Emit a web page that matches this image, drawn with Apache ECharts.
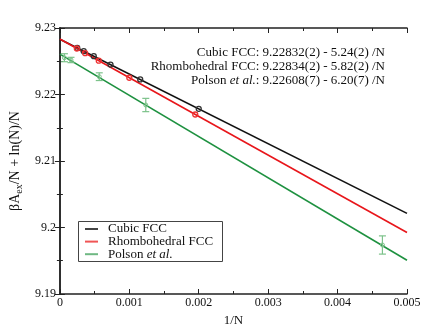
<!DOCTYPE html>
<html><head><meta charset="utf-8">
<script src="https://cdn.jsdelivr.net/npm/echarts@6/dist/echarts.min.js"></script>
<style>html,body{margin:0;padding:0;background:#fff}#c{width:434px;height:334px}</style>
</head><body><div id="c"></div>
<script>
// ---- data ----
var cubicX = [0.00025, 0.000343, 0.000488, 0.000729, 0.001157, 0.002];
var cubicY = [9.22701, 9.22652, 9.22576, 9.2245, 9.22226, 9.21784];
var rhomboX = [0.000244, 0.000364, 0.00056, 0.001, 0.00195];
var rhomboY = [9.22692, 9.22622, 9.22508, 9.22252, 9.21699];
var polsonX = [0.000065, 0.00016, 0.000567, 0.001237, 0.004646];
var polsonY = [9.22553, 9.22519, 9.22268, 9.21842, 9.19737];
var polsonErr = [0.0006, 0.0004, 0.00058, 0.001, 0.00137];
var fitX = [0, 0.005];
var cubicFit = [9.22832, 9.20212];
var rhomboFit = [9.22834, 9.19924];
var polsonFit = [9.22608, 9.19508];
var names = ['Cubic FCC', 'Rhombohedral FCC', 'Polson et al.'];
var legendParts = [['Cubic FCC'], ['Rhombohedral FCC'], ['Polson ', 'et al.']];
var fitTexts = [
  ['Cubic FCC: 9.22832(2) - 5.24(2) /N'],
  ['Rhombohedral FCC: 9.22834(2) - 5.82(2) /N'],
  ['Polson ', 'et al.', ': 9.22608(7) - 6.20(7) /N']
];

var BLACK = '#111', RED = '#e8161b', GREEN = '#1e9140', LGREEN = '#7cc28a';
var legendColors = ['#444', '#f05555', '#6fb883'];
var FONT = 'Liberation Serif';

function zip(a, b) { return a.map(function (v, i) { return [v, b[i]]; }); }
function richText(parts) {
  if (parts.length === 1) return '{n|' + parts[0] + '}';
  var s = '{n|' + parts[0] + '}{i|' + parts[1] + '}';
  if (parts.length > 2) s += '{n|' + parts[2] + '}';
  return s;
}
var RICH = {n: {fontFamily: FONT, fontSize: 13, fill: BLACK},
            i: {fontFamily: FONT, fontSize: 13, fill: BLACK, fontStyle: 'italic'}};

var chart = echarts.init(document.getElementById('c'), null, {renderer: 'canvas'});

function axisCommon(extra) {
  var o = {
    axisLine: {show: true, lineStyle: {color: '#222', width: 1.5}},
    axisTick: {show: true, inside: true, length: 5, lineStyle: {color: '#222', width: 1}},
    minorTick: {show: true, splitNumber: 2, length: 3, lineStyle: {color: '#222', width: 1}},
    splitLine: {show: false},
    axisLabel: {show: false}
  };
  for (var k in extra) o[k] = extra[k];
  return o;
}

var graphics = [];
// legend (drawn as graphic)
var LX = 78, LY = 221;
graphics.push({type: 'rect', left: LX, top: LY, z: 10,
  shape: {width: 144, height: 40}, style: {fill: '#fff', stroke: '#444', lineWidth: 1}});
legendParts.forEach(function (parts, i) {
  var cy = LY + 8 + i * 12.6;
  graphics.push({type: 'line', z: 11, shape: {x1: LX + 7, y1: cy, x2: LX + 20, y2: cy},
    style: {stroke: legendColors[i], lineWidth: 2}});
  graphics.push({type: 'text', z: 11, x: LX + 30, y: cy,
    style: {text: richText(parts), font: '13px "Liberation Serif"', fill: BLACK,
      textVerticalAlign: 'middle', verticalAlign: 'middle', rich: RICH}});
});
// fit annotations
fitTexts.forEach(function (parts, i) {
  graphics.push({type: 'text', right: 434 - 385, top: 46 + i * 14,
    style: {text: richText(parts), fill: BLACK, font: '13px "Liberation Serif"', textAlign: 'right', rich: RICH}});
});

var option = {
  backgroundColor: '#fff',
  animation: false,
  textStyle: {fontFamily: FONT},
  grid: {left: 53, right: 27, top: 28, bottom: 40},
  xAxis: [
    axisCommon({type: 'value', min: 0, max: 0.005, interval: 0.001, position: 'bottom',
      name: '1/N', nameLocation: 'middle', nameGap: 13,
      nameTextStyle: {fontFamily: FONT, fontSize: 13, color: BLACK},
      axisLabel: {show: true, fontFamily: FONT, fontSize: 12, color: BLACK, margin: 3,
        formatter: function (v) { return String(parseFloat(v.toFixed(3))); }}}),
    axisCommon({type: 'value', min: 0, max: 0.005, interval: 0.001, position: 'top'})
  ],
  yAxis: [
    axisCommon({type: 'value', min: 9.19, max: 9.23, interval: 0.01, position: 'left',
      name: '{n|βA}{s|ex}{n|/N + ln(N)/N}', nameLocation: 'middle', nameGap: 30,
      nameTextStyle: {fontFamily: FONT, fontSize: 14, color: BLACK,
        rich: {n: {fontFamily: FONT, fontSize: 14, color: BLACK, lineHeight: 18, verticalAlign: 'middle'},
               s: {fontFamily: FONT, fontSize: 10, color: BLACK, lineHeight: 18, verticalAlign: 'bottom', padding: [6, 0, 0, 0]}}},
      axisLabel: {show: true, fontFamily: FONT, fontSize: 12, color: BLACK, margin: 4,
        formatter: function (v) { return String(parseFloat(v.toFixed(2))); }}}),
    axisCommon({type: 'value', min: 9.19, max: 9.23, interval: 0.01, position: 'right'})
  ],
  series: [
    {name: names[0], type: 'line', data: zip(fitX, cubicFit), showSymbol: false, symbol: 'none',
      lineStyle: {color: BLACK, width: 1.6}, z: 3},
    {name: names[1], type: 'line', data: zip(fitX, rhomboFit), showSymbol: false, symbol: 'none',
      lineStyle: {color: RED, width: 1.6}, z: 3},
    {name: names[2], type: 'line', data: zip(fitX, polsonFit), showSymbol: false, symbol: 'none',
      lineStyle: {color: GREEN, width: 1.6}, z: 3},
    {type: 'scatter', data: zip(cubicX, cubicY), symbol: 'circle', symbolSize: 5,
      itemStyle: {color: 'rgba(0,0,0,0)', borderColor: '#333', borderWidth: 1.3, opacity: 1}, z: 4},
    {type: 'scatter', data: zip(rhomboX, rhomboY), symbol: 'circle', symbolSize: 5,
      itemStyle: {color: 'rgba(0,0,0,0)', borderColor: '#e33', borderWidth: 1.3, opacity: 1}, z: 4},
    {type: 'scatter', data: zip(polsonX, polsonY), symbol: 'circle', symbolSize: 4,
      itemStyle: {color: 'rgba(0,0,0,0)', borderColor: LGREEN, borderWidth: 1, opacity: 1}, z: 4},
    {type: 'custom', z: 5,
      data: polsonX.map(function (x, i) { return [x, polsonY[i] - polsonErr[i], polsonY[i] + polsonErr[i]]; }),
      renderItem: function (params, api) {
        var lo = api.coord([api.value(0), api.value(1)]);
        var hi = api.coord([api.value(0), api.value(2)]);
        var w = 3.5;
        var st = {stroke: LGREEN, lineWidth: 1.2, fill: null};
        return {type: 'group', children: [
          {type: 'line', shape: {x1: lo[0], y1: lo[1], x2: hi[0], y2: hi[1]}, style: st},
          {type: 'line', shape: {x1: lo[0] - w, y1: lo[1], x2: lo[0] + w, y2: lo[1]}, style: st},
          {type: 'line', shape: {x1: hi[0] - w, y1: hi[1], x2: hi[0] + w, y2: hi[1]}, style: st}
        ]};
      }
    }
  ],
  graphic: graphics
};
chart.setOption(option);
</script>
</body></html>
